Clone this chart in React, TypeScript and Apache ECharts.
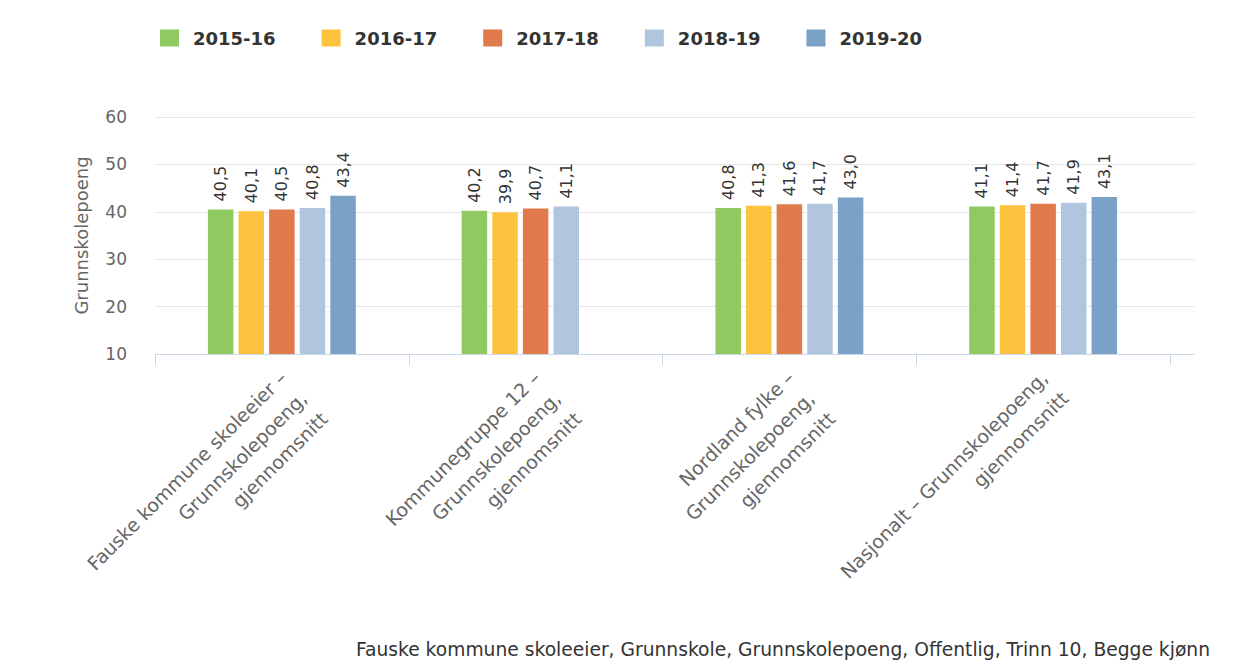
import React, { useEffect, useRef } from 'react';
import * as echarts from 'echarts';

const categories = [
  'Fauske kommune skoleeier –\nGrunnskolepoeng,\ngjennomsnitt',
  'Kommunegruppe 12 –\nGrunnskolepoeng,\ngjennomsnitt',
  'Nordland fylke –\nGrunnskolepoeng,\ngjennomsnitt',
  'Nasjonalt – Grunnskolepoeng,\ngjennomsnitt',
];
const seriesNames = ['2015-16', '2016-17', '2017-18', '2018-19', '2019-20'];
const values2015_16 = [40.5, 40.2, 40.8, 41.1];
const values2016_17 = [40.1, 39.9, 41.3, 41.4];
const values2017_18 = [40.5, 40.7, 41.6, 41.7];
const values2018_19 = [40.8, 41.1, 41.7, 41.9];
const values2019_20 = [43.4, null, 43.0, 43.1];
const seriesValues = [values2015_16, values2016_17, values2017_18, values2018_19, values2019_20];
const seriesColors = ['#90c960', '#fdc33e', '#e07a4b', '#afc6de', '#7ba1c6'];
const yMin = 10;
const yMax = 60;
const yInterval = 10;
const yAxisTitle = 'Grunnskolepoeng';
const caption = 'Fauske kommune skoleeier, Grunnskole, Grunnskolepoeng, Offentlig, Trinn 10, Begge kjønn';

const FONT = '"DejaVu Sans", Verdana, sans-serif';
const fmt = (v: number) => v.toFixed(1).replace('.', ',');

export default function App() {
  const ref = useRef<HTMLDivElement>(null);
  useEffect(() => {
    if (!ref.current) return;
    const chart = echarts.init(ref.current, null, { renderer: 'svg' });
    const gridTop = 117;
    const gridBottom = 308;
    chart.setOption({
      animation: false,
      textStyle: { fontFamily: FONT },
      legend: {
        data: seriesNames,
        left: 155,
        top: 24,
        icon: 'rect',
        itemWidth: 19,
        itemHeight: 17,
        itemGap: 46,
        textStyle: { fontSize: 18, fontWeight: 'bold', color: '#333', fontFamily: FONT, padding: [0, 0, 0, 9] },
      },
      grid: [
        { left: 155, right: 77, top: gridTop, bottom: gridBottom, outerBoundsMode: 'none', containLabel: false },
        { left: 1170, width: 24, top: gridTop, bottom: gridBottom, outerBoundsMode: 'none', containLabel: false },
      ],
      xAxis: [
        {
          type: 'category',
          gridIndex: 0,
          data: categories,
          axisLine: { lineStyle: { color: '#ccd6eb', width: 1 } },
          axisTick: { show: true, length: 11, lineStyle: { color: '#ccd6eb' } },
          axisLabel: {
            interval: 0,
            rotate: 45,
            margin: 1,
            align: 'right',
            verticalAlign: 'top',
            padding: [0, 13, 0, 0],
            fontSize: 19,
            lineHeight: 29,
            color: '#666',
            fontFamily: FONT,
          },
        },
        {
          type: 'category',
          gridIndex: 1,
          data: [''],
          axisLine: { lineStyle: { color: '#ccd6eb', width: 1 } },
          axisTick: { show: false },
          axisLabel: { show: false },
        },
      ],
      yAxis: [
        {
          type: 'value',
          gridIndex: 0,
          min: yMin,
          max: yMax,
          interval: yInterval,
          name: yAxisTitle,
          nameLocation: 'middle',
          nameGap: 65,
          nameTextStyle: { fontSize: 18, color: '#666', fontFamily: FONT },
          axisLine: { show: false },
          axisTick: { show: false },
          axisLabel: { margin: 28, fontSize: 17, color: '#666', fontFamily: FONT },
          splitLine: { lineStyle: { color: '#e6e6e6', width: 1 } },
        },
        {
          type: 'value',
          gridIndex: 1,
          min: yMin,
          max: yMax,
          interval: yInterval,
          axisLine: { show: false },
          axisTick: { show: false },
          axisLabel: { show: false },
          splitLine: { lineStyle: { color: '#e6e6e6', width: 1 } },
        },
      ],
      series: seriesNames.map((name, i) => ({
        name,
        type: 'bar',
        xAxisIndex: 0,
        yAxisIndex: 0,
        data: seriesValues[i],
        barWidth: 25.5,
        barGap: '20%',
        itemStyle: { color: seriesColors[i] },
        label: {
          show: true,
          position: 'top',
          rotate: 90,
          align: 'left',
          verticalAlign: 'middle',
          distance: 8,
          fontSize: 16,
          color: '#333',
          fontFamily: FONT,
          formatter: (p: any) => fmt(p.value),
        },
      })),
      graphic: [
        {
          type: 'text',
          right: 37,
          top: 640,
          style: { text: caption, fontSize: 18.7, fill: '#333', fontFamily: FONT },
        },
      ],
    });
    return () => chart.dispose();
  }, []);
  return <div ref={ref} style={{ position: 'fixed', left: 0, top: 0, width: 1247, height: 662, background: '#fff' }} />;
}
